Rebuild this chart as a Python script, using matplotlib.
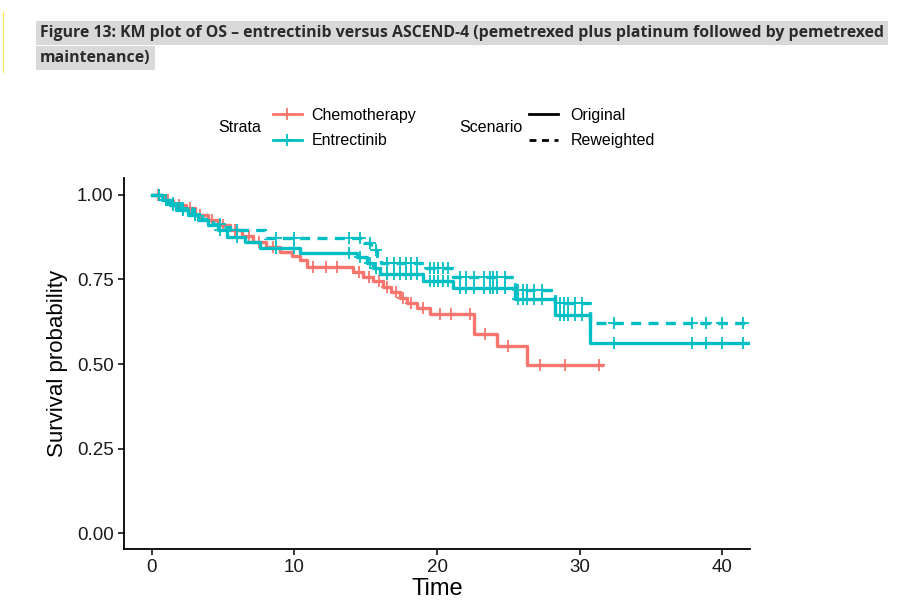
import matplotlib

matplotlib.use("Agg")

import matplotlib.pyplot as plt  # noqa: E402
import numpy as np  # noqa: E402
from matplotlib.lines import Line2D  # noqa: E402

plt.rcParams["font.family"] = ["Liberation Sans", "DejaVu Sans"]

RED = "#F8766D"
TEAL = "#00BFC4"

TITLE_1 = ("Figure 13: KM plot of OS \u2013 entrectinib versus ASCEND-4 "
           "(pemetrexed plus platinum followed by pemetrexed")
TITLE_2 = "maintenance)"

# Chemotherapy (single curve)
chemo_t = [0, 0.8, 1.5, 2.4, 3.0, 3.9, 4.6, 5.5, 6.3, 7.1, 8.0, 9.0, 9.8, 10.4,
           10.9, 14.1, 14.8, 15.5, 16.2, 16.8, 17.4, 17.9, 18.6, 19.5, 22.6,
           24.2, 26.3]
chemo_s = [1.0, 0.985, 0.97, 0.96, 0.94, 0.926, 0.91, 0.896, 0.878, 0.861,
           0.846, 0.831, 0.82, 0.808, 0.787, 0.772, 0.758, 0.745, 0.728, 0.712,
           0.696, 0.68, 0.665, 0.648, 0.588, 0.552, 0.497]
chemo_end = 31.6
chemo_cens = [0.4, 1.1, 1.9, 2.7, 3.4, 4.2, 5.0, 5.8, 6.8, 7.5, 8.5, 11.3,
              12.2, 13.0, 14.5, 15.2, 15.9, 16.5, 17.1, 17.6, 18.2, 19.0, 20.2,
              21.0, 22.3, 23.4, 25.0, 27.2, 29.0, 31.4]

# Entrectinib, original
entr_t = [0, 0.7, 1.3, 1.7, 2.5, 3.2, 3.9, 4.6, 5.3, 6.5, 7.6, 10.4, 14.4,
          15.1, 15.5, 16.0, 19.0, 21.1, 25.5, 28.3, 30.7]
entr_s = [1.0, 0.985, 0.97, 0.955, 0.94, 0.925, 0.91, 0.895, 0.876, 0.86,
          0.843, 0.828, 0.815, 0.80, 0.785, 0.767, 0.745, 0.725, 0.692, 0.645,
          0.562]

# Entrectinib, reweighted
entr_rw_t = [0, 0.7, 1.3, 2.0, 2.8, 3.5, 4.3, 5.0, 5.5, 7.9, 14.9, 15.4, 15.8,
             16.1, 19.2, 21.1, 25.5, 28.3, 30.7]
entr_rw_s = [1.0, 0.985, 0.975, 0.96, 0.945, 0.93, 0.915, 0.905, 0.896, 0.873,
             0.858, 0.838, 0.818, 0.80, 0.784, 0.757, 0.719, 0.68, 0.621]
entr_end = 41.9
entr_cens = [0.5, 1.0, 1.5, 2.2, 3.0, 4.8, 6.0, 8.7, 10.0, 13.8, 14.6, 15.3,
             15.7, 16.5, 17.0, 17.4, 17.8, 18.2, 18.6, 19.5, 19.8, 20.1, 20.4,
             20.8, 21.6, 22.0, 22.6, 23.3, 23.7, 23.9, 24.2, 24.8, 25.7, 26.0,
             26.3, 26.8, 27.4, 28.6, 28.9, 29.2, 29.7, 30.2, 32.4, 37.9, 38.9,
             40.0, 41.5]

x_ticks = [0, 10, 20, 30, 40]
y_ticks = [0.00, 0.25, 0.50, 0.75, 1.00]


def km(ax, times, surv, end, cens, color, ls):
    t = np.append(times, end)
    s = np.append(surv, surv[-1])
    ax.step(t, s, where="post", color=color, lw=2.4, ls=ls,
            dashes=(3, 2.2) if ls == "--" else (None, None))
    idx = np.searchsorted(times, cens, side="right") - 1
    ax.plot(cens, np.asarray(surv)[idx], ls="none", marker="+", color=color,
            ms=8, mew=1.3)


fig = plt.figure(figsize=(9.13, 6.01), dpi=100)
ax = fig.add_axes([124 / 913, 1 - 549 / 601, 626 / 913, 371 / 601])

km(ax, chemo_t, chemo_s, chemo_end, chemo_cens, RED, "-")
km(ax, entr_rw_t, entr_rw_s, entr_end, entr_cens, TEAL, "--")
km(ax, entr_t, entr_s, entr_end, entr_cens, TEAL, "-")

ax.set_xlim(-1.96, 41.96)
ax.set_ylim(-0.047, 1.05)
ax.set_xticks(x_ticks)
ax.set_yticks(y_ticks)
ax.set_yticklabels([f"{v:.2f}" for v in y_ticks])
for side in ("top", "right"):
    ax.spines[side].set_visible(False)
for side in ("left", "bottom"):
    ax.spines[side].set_linewidth(1.3)
ax.tick_params(labelsize=13.5, length=4, width=1.1, colors="black", labelcolor="#1a1a1a")
ax.set_xlabel("Time", fontsize=17, labelpad=1)
ax.set_ylabel("Survival probability", fontsize=16, labelpad=6)

# legends
fig.text(240 / 913, 1 - 128 / 601, "Strata", fontsize=11.5, ha="center", va="center")
fig.text(491 / 913, 1 - 128 / 601, "Scenario", fontsize=11.5, ha="center", va="center")
strata = [Line2D([], [], color=RED, lw=2, marker="+", ms=9, mew=1.3),
          Line2D([], [], color=TEAL, lw=2, marker="+", ms=9, mew=1.3)]
fig.legend(strata, ["Chemotherapy", "Entrectinib"], loc="center left",
           bbox_to_anchor=(265 / 913, 1 - 128 / 601), frameon=False, fontsize=11.5,
           handlelength=1.8, handletextpad=0.6, labelspacing=0.68, borderpad=0)
scen = [Line2D([], [], color="black", lw=2),
        Line2D([], [], color="black", lw=2, ls="--", dashes=(2.5, 2))]
fig.legend(scen, ["Original", "Reweighted"], loc="center left",
           bbox_to_anchor=(521 / 913, 1 - 128 / 601), frameon=False, fontsize=11.5,
           handlelength=1.8, handletextpad=0.8, labelspacing=0.68, borderpad=0)

# document caption with grey highlight
fam = ["Liberation Sans Narrow", "Open Sans", "DejaVu Sans"]
box = dict(facecolor="#d9d9d9", edgecolor="none", pad=3)
fig.text(40 / 913, 1 - 33 / 601, TITLE_1, fontsize=11.4, fontweight="bold",
         family=fam, color="#2b2b2b", va="center", ha="left", bbox=box)
fig.text(40 / 913, 1 - 58 / 601, TITLE_2, fontsize=11.4, fontweight="bold",
         family=fam, color="#2b2b2b", va="center", ha="left", bbox=box)
fig.add_artist(Line2D([3 / 913, 3 / 913], [1 - 12 / 601, 1 - 72 / 601],
                      color="#ffe94d", lw=0.8))

fig.savefig("out.png", dpi=100)
plt.close(fig)
